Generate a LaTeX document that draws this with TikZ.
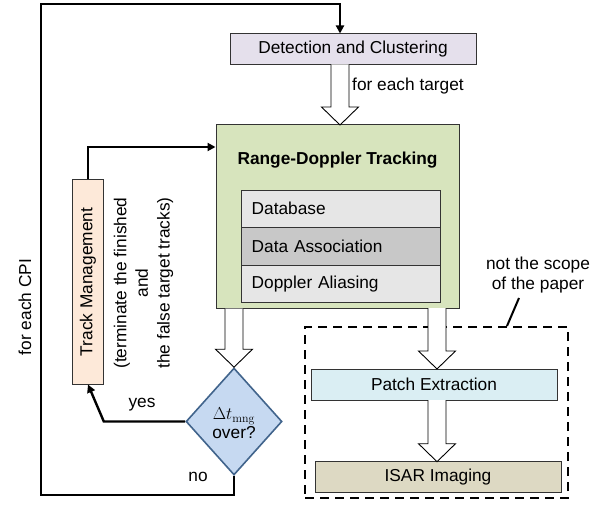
\documentclass[tikz,border=0pt]{standalone}
\usepackage[no-math]{fontspec}
\setmainfont{Liberation Sans}
\usetikzlibrary{shapes.geometric,arrows.meta,calc}
\definecolor{detc}{HTML}{E5E0EC}
\definecolor{rdtc}{HTML}{D7E4BD}
\definecolor{lgray}{HTML}{E6E6E6}
\definecolor{mgray}{HTML}{C8C8C8}
\definecolor{tmc}{HTML}{FDE9D9}
\definecolor{diac}{HTML}{C6D9F1}
\definecolor{diab}{HTML}{41648C}
\definecolor{patc}{HTML}{DAEEF3}
\definecolor{isarc}{HTML}{DDD9C3}
\definecolor{boxb}{HTML}{333333}
\tikzset{
  every node/.style={font=\fontsize{17.3}{20.8}\selectfont},
  box/.style={draw=boxb, line width=1pt, rectangle, inner sep=0pt},
  sub/.style={box, minimum width=199pt, minimum height=37.5pt, text width=179pt, align=left, inner xsep=10pt},
  flow/.style={line width=2.4pt, -{Triangle[length=8pt,width=8pt]}},
  hollow/.style={draw=black, fill=white, line width=0.9pt, line join=miter},
}
\newcommand\harrow[2]{%
  \draw[hollow] let \p1=#1, \p2=#2 in
    (\x1-9pt,\y1) -- (\x1-9pt,\y2+18pt) -- (\x1-18.5pt,\y2+18pt) -- (\x1,\y2)
    -- (\x1+18.5pt,\y2+18pt) -- (\x1+9pt,\y2+18pt) -- (\x1+9pt,\y1);}
\begin{document}
\begin{tikzpicture}[x=1pt,y=-1pt]
\useasboundingbox (0,0) rectangle (604,510);
% boxes
\node[box, fill=detc, minimum width=246pt, minimum height=31pt] (det) at (353,49) {Detection and Clustering};
\node[box, fill=rdtc, minimum width=243pt, minimum height=183pt] (rdt) at (337.5,216.5) {};
\node[font=\fontsize{17.3}{20.8}\selectfont\bfseries] (title) at (337.5,160) {Range-Doppler Tracking};
\node[sub, fill=lgray] (db) at (341.2,208.8) {Database};
\node[sub, fill=mgray] (da) at (341.2,246.3) {Data Association};
\node[sub, fill=lgray] (dop) at (341.2,283.8) {Doppler Aliasing};
\node[box, fill=tmc, rotate=90, minimum width=204pt, minimum height=30.6pt] (tm) at (88,282) {Track Management};
\node[rotate=90, align=center, inner sep=0pt, font=\fontsize{17.3}{21.7}\selectfont] (tmnote) at (143.5,283) {(terminate the finished\\and\\the false target tracks)};
\node[draw=diab, fill=diac, line width=1.6pt, diamond, minimum width=96pt, minimum height=107pt, inner sep=0pt] (dia) at (234,421.5) {};
\node[align=center, inner sep=0pt] (diat) at (234,423) {$\Delta t_{\mathrm{mng}}$\\[-2pt]over?};
\node[draw, dashed, line width=2pt, dash pattern=on 9pt off 6pt, minimum width=263pt, minimum height=171pt, inner sep=0pt] (scope) at (436.5,412.5) {};
\node[box, fill=patc, minimum width=246pt, minimum height=31pt] (patch) at (434,384.5) {Patch Extraction};
\node[box, fill=isarc, minimum width=246pt, minimum height=31pt] (isar) at (438,477.2) {ISAR Imaging};
% labels
\node[anchor=west, inner sep=0pt] (fet) at (352,86) {for each target};
\node[rotate=90, inner sep=0pt] (fecpi) at (25,307) {for each CPI};
\node[inner sep=0pt] (yes) at (142,405) {yes};
\node[inner sep=0pt] (no) at (198,477) {no};
\node[align=center, inner sep=0pt] (note) at (538,275) {not the scope\\of the paper};
\coordinate (lead) at (519,298);
\draw[line width=2pt] (lead) -- (507,326);
% hollow arrows
\harrow{(340,64.5)}{(340,125)}
\harrow{(dia.north |- rdt.south)}{(dia.north)}
\harrow{(437,308)}{(437,369)}
\harrow{(437,400)}{(437,461.7)}
% flow lines
\coordinate (tl) at (41,4);
\coordinate (bl) at (41,495);
\draw[flow] (dia.south) -- (dia.south |- bl) -- (bl) -- (tl) -- (340,4) -- (340,33.5);
\draw[flow] (dia.west) -- (dia.west -| tm.south) -- (tm.west);
\draw[flow] (tm.east) -- (88,147) -- (rdt.west |- 0,147);
\end{tikzpicture}
\end{document}
